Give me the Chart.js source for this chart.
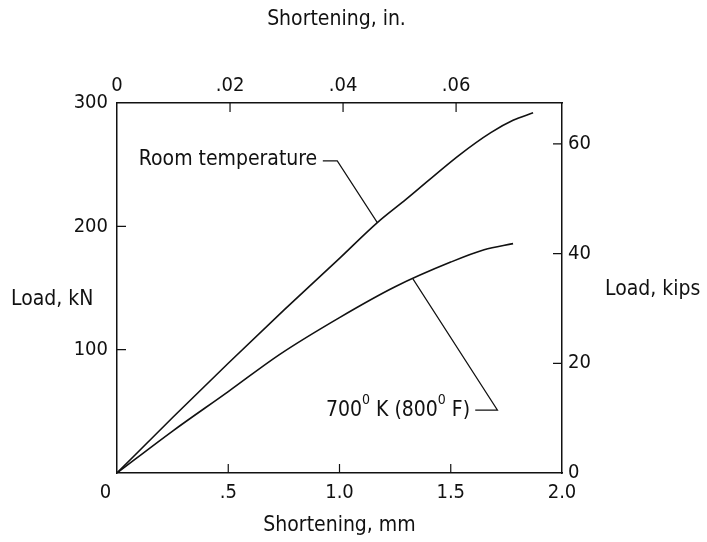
<!DOCTYPE html>
<html>
<head>
<meta charset="utf-8">
<title>Load vs shortening</title>
<script src="https://cdn.jsdelivr.net/npm/chart.js@4.4.1/dist/chart.umd.min.js"></script>
<style>
  html, body { margin: 0; padding: 0; background: #fff; }
  #wrap { width: 707px; height: 542px; }
</style>
</head>
<body>
<div id="wrap"><canvas id="chart" width="707" height="542"></canvas></div>
<script>
// Data (shortening in mm, load in kN)
const roomTempMm = [0, 0.25, 0.5, 0.75, 1.0, 1.17, 1.3, 1.54, 1.68, 1.78, 1.87];
const roomTempKN = [0, 45, 89, 132, 174, 203, 222, 258, 276, 286, 292];
const hotMm = [0, 0.25, 0.5, 0.73, 1.0, 1.25, 1.5, 1.65, 1.78];
const hotKN = [0, 34, 66, 96, 126, 151, 171, 181, 186];

// Tick values / labels for the four axes
const mmTicks = [0, 0.5, 1.0, 1.5, 2.0];
const mmTickLabels = ['0    ', '.5', '1.0', '1.5', '2.0'];
const inTicks = [0, 0.02, 0.04, 0.06];
const inTickLabels = ['0', '.02', '.04', '.06'];
const kNTicks = [100, 200, 300];
const kNTickLabels = ['100', '200', '300'];
const kipsTicks = [0, 20, 40, 60];
const kipsTickLabels = ['0', '20', '40', '60'];

const MM_PER_IN = 25.4;
const KN_PER_KIP = 4.448222;
const FONT = '"DejaVu Sans Condensed", "Liberation Sans Narrow", sans-serif';
const INK = '#111';

const toPoints = (xs, ys) => xs.map((x, i) => ({ x, y: ys[i] }));

// linear lookup on a series, used to put leader tips on the curve
function loadAt(xs, ys, x) {
  for (let i = 1; i < xs.length; i++) {
    if (x <= xs[i]) {
      const t = (x - xs[i - 1]) / (xs[i] - xs[i - 1]);
      return ys[i - 1] + t * (ys[i] - ys[i - 1]);
    }
  }
  return ys[ys.length - 1];
}

function fixedTicks(values) {
  return (axis) => { axis.ticks = values.map(v => ({ value: v })); };
}

function axisOptions(position, min, max, values, labels, size, padding) {
  return {
    type: 'linear',
    position,
    min,
    max,
    afterBuildTicks: fixedTicks(values),
    afterFit: (s) => {
      if (position === 'left' || position === 'right') s.width = size;
      else s.height = size;
    },
    grid: { drawOnChartArea: false, drawTicks: false },
    border: { display: true, color: INK, width: 1.5 },
    ticks: {
      color: INK,
      padding,
      font: { family: FONT, size: 20 },
      callback: (v, i) => labels[i]
    }
  };
}

// Inward tick marks, axis titles and the two curve labels
const decorations = {
  id: 'decorations',
  afterDraw(chart) {
    const { ctx, chartArea: a, scales } = chart;
    const len = 9;
    ctx.save();
    ctx.strokeStyle = INK;
    ctx.lineWidth = 1.2;
    ctx.beginPath();
    mmTicks.slice(1, -1).forEach(v => {
      const x = scales.x.getPixelForValue(v);
      ctx.moveTo(x, a.bottom); ctx.lineTo(x, a.bottom - len);
    });
    inTicks.slice(1).forEach(v => {
      const x = scales.x2.getPixelForValue(v);
      ctx.moveTo(x, a.top); ctx.lineTo(x, a.top + len);
    });
    kNTicks.slice(0, -1).forEach(v => {
      const y = scales.y.getPixelForValue(v);
      ctx.moveTo(a.left, y); ctx.lineTo(a.left + len, y);
    });
    kipsTicks.slice(1).forEach(v => {
      const y = scales.y2.getPixelForValue(v);
      ctx.moveTo(a.right, y); ctx.lineTo(a.right - len, y);
    });
    ctx.stroke();

    // axis titles
    ctx.fillStyle = INK;
    ctx.font = `21px ${FONT}`;
    ctx.textBaseline = 'middle';
    ctx.textAlign = 'center';
    const cx = (a.left + a.right) / 2;
    ctx.fillText('Shortening, in.', cx - 3, 20);
    ctx.fillText('Shortening, mm', cx, 526);
    ctx.textAlign = 'left';
    ctx.fillText('Load, kN', 11, 300);
    ctx.fillText('Load, kips', 605, 290);

    // curve labels with leaders
    const px = (mm) => scales.x.getPixelForValue(mm);
    const py = (kN) => scales.y.getPixelForValue(kN);
    ctx.lineWidth = 1.2;

    // Room temperature
    ctx.textAlign = 'right';
    ctx.fillText('Room temperature', px(0.9), py(254));
    const rtTip = 1.17;
    ctx.beginPath();
    ctx.moveTo(px(0.925), py(253));
    ctx.lineTo(px(0.99), py(253));
    ctx.lineTo(px(rtTip), py(loadAt(roomTempMm, roomTempKN, rtTip)));
    ctx.stroke();

    // 700 K label, superscript degree marks
    const parts = [['700', false], ['0', true], [' K (800', false], ['0', true], [' F)', false]];
    const big = `21px ${FONT}`;
    const small = `14px ${FONT}`;
    let width = 0;
    parts.forEach(([t, sup]) => { ctx.font = sup ? small : big; width += ctx.measureText(t).width; });
    let x = px(1.587) - width;
    const y = py(51);
    ctx.textAlign = 'left';
    parts.forEach(([t, sup]) => {
      ctx.font = sup ? small : big;
      ctx.fillText(t, x, sup ? y - 10 : y);
      x += ctx.measureText(t).width;
    });
    const hotTip = 1.33;
    ctx.beginPath();
    ctx.moveTo(px(1.61), py(51));
    ctx.lineTo(px(1.71), py(51));
    ctx.lineTo(px(hotTip), py(loadAt(hotMm, hotKN, hotTip)));
    ctx.stroke();
    ctx.restore();
  }
};

const lineStyle = {
  borderColor: INK,
  borderWidth: 1.6,
  pointRadius: 0,
  fill: false,
  cubicInterpolationMode: 'monotone'
};

new Chart(document.getElementById('chart'), {
  type: 'scatter',
  data: {
    datasets: [
      { label: 'Room temperature', data: toPoints(roomTempMm, roomTempKN), showLine: true, ...lineStyle },
      { label: '700 K (800 F)', data: toPoints(hotMm, hotKN), showLine: true, ...lineStyle }
    ]
  },
  options: {
    responsive: false,
    animation: false,
    layout: { padding: 0 },
    plugins: { legend: { display: false }, tooltip: { enabled: false } },
    scales: {
      x: axisOptions('bottom', 0, 2, mmTicks, mmTickLabels, 69, 8),
      x2: axisOptions('top', 0, 2 / MM_PER_IN, inTicks, inTickLabels, 103, 5),
      y: axisOptions('left', 0, 300, kNTicks, kNTickLabels, 117, 9),
      y2: axisOptions('right', 0, 300 / KN_PER_KIP, kipsTicks, kipsTickLabels, 145, 6)
    }
  },
  plugins: [decorations]
});
</script>
</body>
</html>
